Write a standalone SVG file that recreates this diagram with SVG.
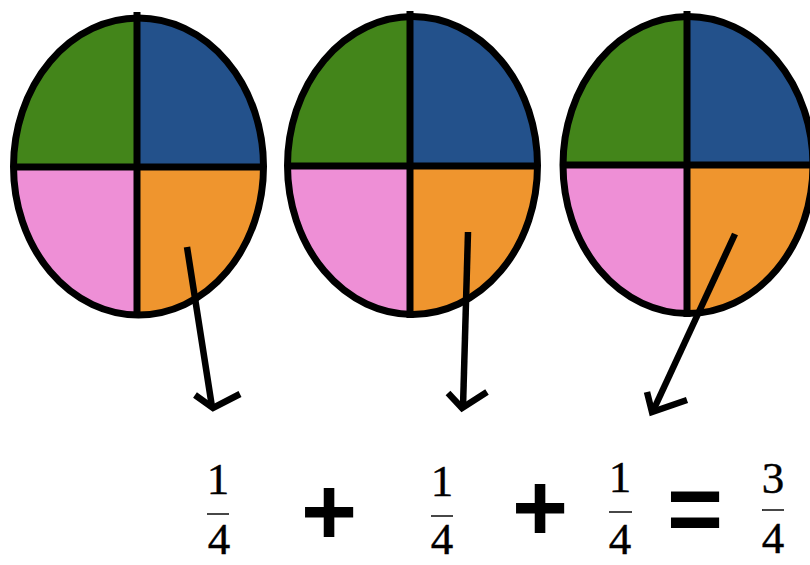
<svg xmlns="http://www.w3.org/2000/svg" width="810" height="565" viewBox="0 0 810 565">
<style>
.g{fill:#43851a}.b{fill:#23518b}.p{fill:#ee8fd6}.o{fill:#ef952e}
.ol{fill:none;stroke:#000;stroke-width:7}
.dv{stroke:#000;stroke-width:7}
.ar{fill:none;stroke:#000;stroke-width:6.5;stroke-linejoin:miter;stroke-linecap:butt}
.num{font-family:"Liberation Serif","DejaVu Serif",serif;font-size:45px;fill:#000;text-anchor:middle;stroke:#000;stroke-width:0.4}
.bar{stroke:#333;stroke-width:1.8}
.op{font-family:"Liberation Sans","Arial",sans-serif;font-weight:bold;font-size:96px;fill:#000;text-anchor:middle}
</style>
<defs>
<clipPath id="c1"><ellipse cx="138.5" cy="166.5" rx="125" ry="148.5"/></clipPath>
<clipPath id="c2"><ellipse cx="412.5" cy="165.5" rx="125" ry="149"/></clipPath>
<clipPath id="c3"><ellipse cx="688" cy="165" rx="125" ry="148.5"/></clipPath>
</defs>
<rect width="810" height="565" fill="#fff"/>
<g id="pie1">
<g clip-path="url(#c1)">
<rect class="g" x="0" y="0" width="137" height="167"/>
<rect class="b" x="137" y="0" width="140" height="167"/>
<rect class="p" x="0" y="167" width="137" height="160"/>
<rect class="o" x="137" y="167" width="140" height="160"/>
</g>
<line class="dv" x1="137" y1="12" x2="137" y2="318"/>
<line class="dv" x1="12" y1="167" x2="266" y2="167"/>
<ellipse class="ol" cx="138.5" cy="166.5" rx="125" ry="148.5"/>
</g>
<g id="pie2">
<g clip-path="url(#c2)">
<rect class="g" x="280" y="0" width="130" height="166"/>
<rect class="b" x="410" y="0" width="140" height="166"/>
<rect class="p" x="280" y="166" width="130" height="160"/>
<rect class="o" x="410" y="166" width="140" height="160"/>
</g>
<line class="dv" x1="410" y1="11" x2="410" y2="318"/>
<line class="dv" x1="286" y1="166" x2="540" y2="166"/>
<ellipse class="ol" cx="412.5" cy="165.5" rx="125" ry="149"/>
</g>
<g id="pie3">
<g clip-path="url(#c3)">
<rect class="g" x="555" y="0" width="132" height="165"/>
<rect class="b" x="687" y="0" width="130" height="165"/>
<rect class="p" x="555" y="165" width="132" height="160"/>
<rect class="o" x="687" y="165" width="130" height="160"/>
</g>
<line class="dv" x1="687" y1="11" x2="687" y2="317"/>
<line class="dv" x1="562" y1="165" x2="812" y2="165"/>
<ellipse class="ol" cx="688" cy="165" rx="125" ry="148.5"/>
</g>
<g id="connectors">
<line class="ar" x1="187" y1="247" x2="212" y2="407"/>
<polyline class="ar" points="195,395 213,408 240,394"/>
<line class="ar" x1="468" y1="232" x2="463" y2="407"/>
<polyline class="ar" points="448,393 462,408 487,392"/>
<line class="ar" x1="735" y1="234" x2="653" y2="411"/>
<polyline class="ar" points="647,392 652,412 687,400"/>
</g>
<g id="frac1">
<text class="num" x="218" y="494">1</text>
<line class="bar" x1="207" y1="514" x2="229" y2="514"/>
<text class="num" x="219" y="554">4</text>
</g>
<g id="plus1"><text class="op" x="329" y="545">+</text></g>
<g id="frac2">
<text class="num" x="442" y="496">1</text>
<line class="bar" x1="431" y1="516" x2="453" y2="516"/>
<text class="num" x="442" y="554">4</text>
</g>
<g id="plus2"><text class="op" x="540" y="541">+</text></g>
<g id="frac3">
<text class="num" x="620" y="492">1</text>
<line class="bar" x1="609" y1="512" x2="632" y2="512"/>
<text class="num" x="620" y="554">4</text>
</g>
<g id="eq"><text class="op" x="695" y="542">=</text></g>
<g id="frac4">
<text class="num" x="773" y="493">3</text>
<line class="bar" x1="762" y1="510" x2="784" y2="510"/>
<text class="num" x="773" y="553">4</text>
</g>
</svg>
